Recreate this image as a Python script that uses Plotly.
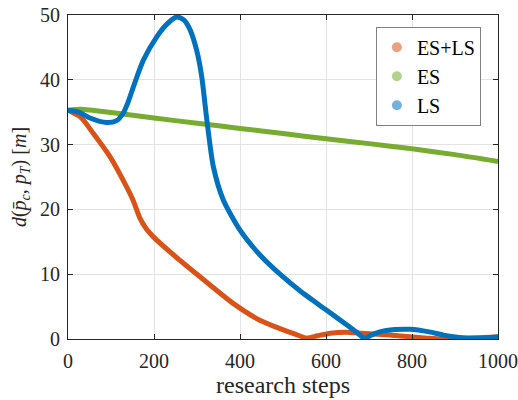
import plotly.graph_objects as go

# ES+LS
es_ls_x = [0, 30, 59, 98, 136, 152, 167, 182, 198, 245, 307, 384, 446, 493, 530, 555, 580, 610, 648, 680, 740, 795, 840, 870, 920, 1000]
es_ls_y = [35.3, 34.2, 31.7, 28.1, 23.5, 21.3, 18.7, 17.0, 15.8, 13.0, 9.6, 5.5, 2.9, 1.6, 0.7, 0.15, 0.5, 0.9, 1.05, 0.9, 0.65, 0.35, 0.1, 0.0, 0.1, 0.3]

# ES
es_x = [0, 30, 100, 200, 300, 400, 500, 600, 700, 800, 900, 1000]
es_y = [35.3, 35.45, 34.95, 34.1, 33.3, 32.5, 31.7, 30.9, 30.15, 29.35, 28.45, 27.4]

# LS
ls_x = [0, 25, 51, 90, 113, 128, 140, 152, 175, 206, 230, 253, 270, 284, 299, 311, 322, 338, 361, 400, 446, 493, 540, 600, 648, 670, 690, 705, 725, 760, 795, 840, 873, 910, 950, 1000]
ls_y = [35.3, 35.0, 34.1, 33.4, 33.7, 34.8, 36.6, 38.9, 43.0, 46.6, 48.6, 49.7, 49.2, 47.7, 44.6, 40.5, 34.3, 26.6, 21.5, 16.8, 13.0, 10.0, 7.4, 4.5, 2.2, 1.1, 0.1, 0.6, 1.1, 1.45, 1.5, 1.1, 0.6, 0.25, 0.1, 0.35]

x_ticks = [0, 200, 400, 600, 800, 1000]
y_ticks = [0, 10, 20, 30, 40, 50]

series = [
    ("ES+LS", es_ls_x, es_ls_y, "#D95319"),
    ("ES", es_x, es_y, "#77AC30"),
    ("LS", ls_x, ls_y, "#0072BD"),
]

FONT = "Liberation Serif"
fig = go.Figure()
for name, xs, ys, col in series:
    fig.add_trace(go.Scatter(x=xs, y=ys, mode="lines", line=dict(color=col, width=5, shape="spline", smoothing=0.7),
                             showlegend=False, hoverinfo="skip"))
for name, xs, ys, col in series:
    fig.add_trace(go.Scatter(x=[None], y=[None], mode="markers", name=name,
                             marker=dict(color=col, size=10, opacity=0.55)))

axis_common = dict(showline=True, linecolor="#262626", linewidth=1, mirror="ticks",
                   ticks="inside", ticklen=5, tickcolor="#262626", automargin=False,
                   ticklabeloverflow="allow",
                   showgrid=True, gridcolor="#e3e3e3", gridwidth=1, zeroline=False,
                   tickfont=dict(family=FONT, size=20, color="#262626"))

fig.update_layout(
    width=518, height=400,
    margin=dict(l=68, r=20, t=15, b=61),
    plot_bgcolor="white", paper_bgcolor="white",
    font=dict(family=FONT, color="#262626"),
    xaxis=dict(range=[0, 1000], tickvals=x_ticks, ticklabelstandoff=4,
               title=dict(text="research steps", font=dict(family=FONT, size=24), standoff=3),
               **axis_common),
    yaxis=dict(range=[0, 50], tickvals=y_ticks, ticklabelstandoff=3,
               title=dict(text="<i>d</i>(<i>p̄</i><sub><i>c</i></sub>, <i>p</i><sub><i>T</i></sub>)&nbsp;[<i>m</i>]",
                          font=dict(family=FONT, size=20), standoff=8),
               **axis_common),
    legend=dict(x=0.716, y=0.964, xanchor="left", yanchor="top", bordercolor="#808080", borderwidth=1,
                bgcolor="white", font=dict(family=FONT, size=20, color="#000000"), itemwidth=30,
                tracegroupgap=0),
)

fig.write_html("out.html", config={"displayModeBar": False},
               post_script="document.body.style.margin='0px';")
